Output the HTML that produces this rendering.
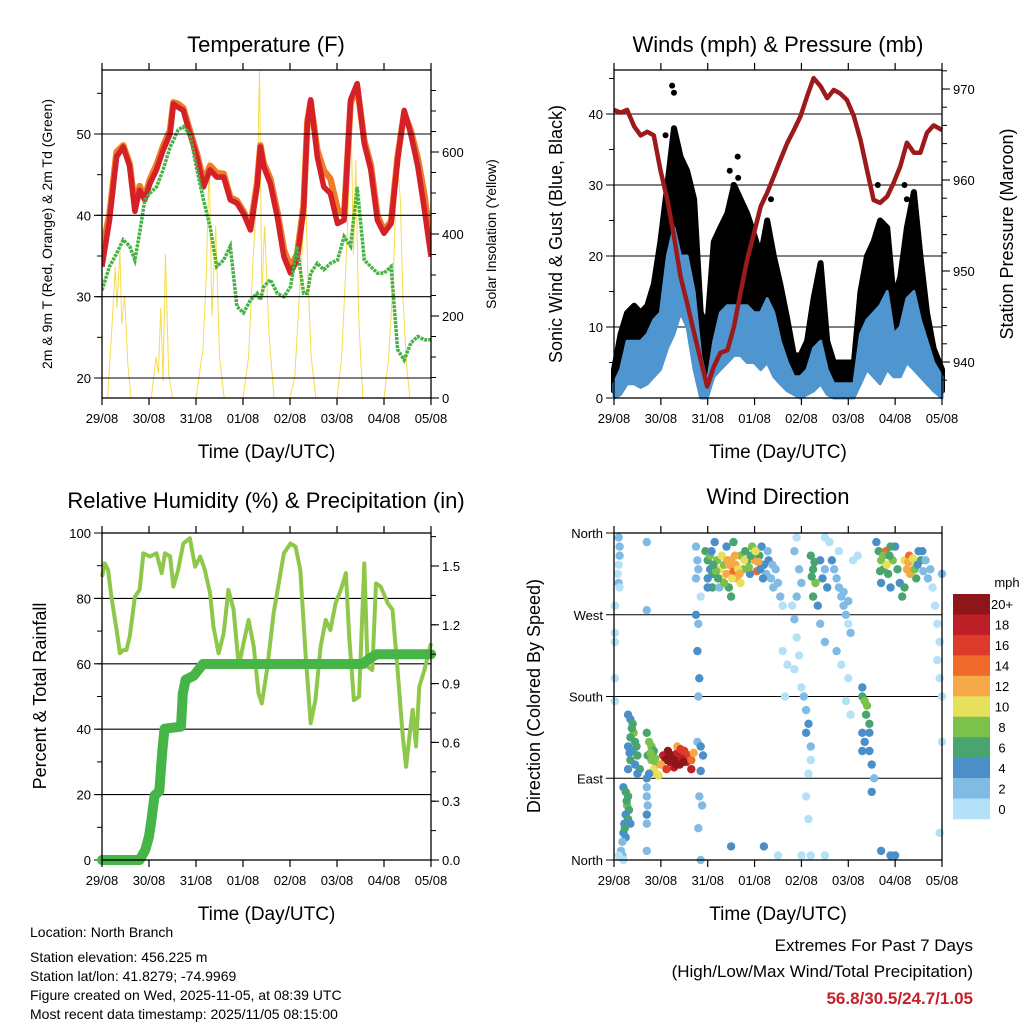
<!DOCTYPE html>
<html><head><meta charset="utf-8">
<style>
html,body{margin:0;padding:0;background:#fff;}
svg{display:block;font-family:"Liberation Sans",sans-serif;}
</style></head>
<body>
<svg id="fig" width="1024" height="1024" viewBox="0 0 1024 1024">
<g id="root"></g>
<g font-size="14" fill="#000">
<text x="30" y="937">Location: North Branch</text>
<text x="30" y="962">Station elevation: 456.225 m</text>
<text x="30" y="981">Station lat/lon: 41.8279; -74.9969</text>
<text x="30" y="1000">Figure created on Wed, 2025-11-05, at 08:39 UTC</text>
<text x="30" y="1019">Most recent data timestamp: 2025/11/05 08:15:00</text>
</g>
<g text-anchor="end">
<text x="973" y="951" font-size="17">Extremes For Past 7 Days</text>
<text x="973" y="977" font-size="17">(High/Low/Max Wind/Total Precipitation)</text>
<text x="973" y="1004" font-size="17" font-weight="bold" fill="#c8202a">56.8/30.5/24.7/1.05</text>
</g>
</svg>
<script>
// ---------- DATA ----------
const dayLabels = ["29/08","30/08","31/08","01/08","02/08","03/08","04/08","05/08"];
// Temperature panel
const tempTimes = [0,.16,.31,.45,.59,.70,.80,.91,1.02,1.16,1.30,1.45,1.52,1.62,1.73,1.87,2.02,2.16,2.30,2.44,2.59,2.73,2.87,3.01,3.16,3.30,3.37,3.44,3.58,3.73,3.87,4.01,4.15,4.29,4.37,4.44,4.58,4.72,4.86,5.01,5.15,5.29,5.43,5.58,5.72,5.86,6.00,6.15,6.29,6.43,6.57,6.72,6.86,7.0];
const temp2m = [33.7,39.4,47.2,48.4,46,40.5,43.1,41.9,43.9,45.6,48,50,53.7,53.3,52.9,50,47.2,43.5,45.6,44.7,44.7,41.9,41.5,40.2,38.2,43.5,48.4,46,43.9,39.8,34.9,32.9,34.5,40.7,51.3,54.2,47.2,43.5,42.7,39,39.4,54.2,56.2,48.8,45.6,39.4,37.8,39,46.8,52.9,50,46,40.7,34.9];
const temp9m = [35.5,40.2,47.8,48.6,46.3,41,43.6,42.3,44.4,46.2,48.5,50.5,53.9,53.7,53.2,50.4,47.6,44.2,46.1,45.2,45.1,42.2,41.8,40.5,38.6,44,48.6,46.4,44.5,40.5,35.8,33.6,35.2,41.2,51.6,54,48,45.5,44.5,40.8,40,53.8,55.8,49.2,46.2,40,38.1,39.3,47.2,52.6,50.4,47,42.5,36.5];
const dewpt = [30.8,33.7,35.3,37,36.2,34.5,37.8,41.9,42.7,43.5,45.6,48.4,49.2,50.5,50.9,50,45.6,41.9,38.6,33.7,34.5,36.2,28.8,28,29.6,30.4,29.6,31.2,32.1,30.4,30,31.2,36.2,30.4,30.4,32.9,34.1,33.3,34.1,34.5,37.4,36.2,43.5,34.5,33.7,32.9,32.9,33.7,23.5,22.2,24.3,25.1,24.7,24.7];
const solarTimes = [0,.12,.2,.28,.32,.38,.42,.48,.55,.62,1.05,1.15,1.2,1.25,1.3,1.35,1.42,1.5,2.0,2.15,2.22,2.28,2.34,2.42,2.5,2.6,3.0,3.12,3.22,3.3,3.35,3.4,3.46,3.55,3.66,4.0,4.1,4.2,4.28,4.32,4.38,4.45,4.55,5.0,5.1,5.18,5.25,5.3,5.35,5.4,5.46,5.55,6.0,6.1,6.2,6.28,6.35,6.4,6.48,6.55,7.0];
const solarVals = [0,0,150,320,220,360,180,250,80,0,0,100,60,220,40,350,60,0,0,120,300,580,200,420,100,0,0,100,350,500,800,250,420,160,0,0,50,250,400,560,300,100,0,0,100,300,500,680,350,580,200,0,0,100,300,590,480,250,80,0,0];
// Wind panel
const pressTimes = [0,.14,.28,.43,.57,.71,.85,.99,1.14,1.28,1.42,1.56,1.71,1.85,1.99,2.13,2.27,2.42,2.56,2.7,2.84,2.99,3.13,3.27,3.41,3.55,3.7,3.84,3.98,4.12,4.26,4.41,4.55,4.69,4.83,4.97,5.12,5.26,5.4,5.54,5.68,5.83,5.97,6.11,6.25,6.4,6.54,6.68,6.82,7.0];
const pressure = [967.7,967.4,967.7,965.9,964.9,965.3,964.9,961.1,957.8,953.8,949.4,946.5,943.2,940.2,937.3,939.5,941,941.3,943.9,947.6,951.2,954.2,957.1,958.6,960.4,962.2,964.1,965.5,967,969.2,971.2,970.3,969,969.9,969.5,968.8,967,964.4,961.1,957.8,957.5,958.2,959.7,961.5,964.1,963,963,965.2,966,965.5];
const windLow = [0,.5,2,2,1.5,2,3,4,7,9,12,10,4,0,0,3,4,5,6,6,5,5,4,5,3,2,1,.5,0,.5,1,2,.5,0,0,0,0,2,4,3,2,4,3,3,5,4,3,2,1,0];
const windHigh = [2,4,8,8,8,9,11,12,20,24,20,20,15,6,2,8,12,13,13,13,13,12,12,14,12,8,5,3,3,4,7,8,4,2,2,2,2,9,11,12,13,15,9,10,14,15,11,8,5,3];
const gustLow = [1,3,5,5,5,6,8,10,14,18,16,12,8,2,2,6,8,9,10,9,9,8,6,8,6,4,2,1,1,2,3,4,2,1,1,1,1,4,7,6,6,6,5,6,8,8,6,4,2,1];
const gustHigh = [4,9,12,13,12,13,16,22,30,38,34,32,28,12,10,22,24,26,30,28,26,23,20,25,20,16,11,6,6,8,14,19,8,5,5,5,5,15,20,22,25,24,14,17,24,29,20,12,7,4];
const gustOutTimes = [1.24,1.28,1.1,1.32,2.47,2.64,2.65,2.55,3.35,5.63,5.5,5.55,6.2,6.25];
const gustOutVals = [44,43,37,36,32,34,31,30,28,30,20,22,30,28];
// RH panel
const rhTimes = [0,.06,.13,.2,.31,.38,.45,.52,.59,.70,.80,.88,1.02,1.16,1.27,1.34,1.45,1.52,1.62,1.73,1.87,1.98,2.09,2.19,2.30,2.37,2.48,2.59,2.69,2.80,2.91,3.01,3.12,3.23,3.33,3.40,3.51,3.65,3.76,3.87,4.01,4.12,4.22,4.33,4.44,4.54,4.65,4.76,4.86,4.97,5.08,5.19,5.26,5.36,5.47,5.58,5.65,5.75,5.83,5.93,6.08,6.18,6.29,6.40,6.47,6.54,6.61,6.68,6.75,6.86,7.0];
const rhVals = [86.6,90.7,88.7,80.5,70.3,63.2,64.2,64.2,68.3,80.5,82.6,93.8,92.8,93.8,87.7,93.8,92.8,83.6,88.7,96.8,98.4,89.7,92.8,88.7,81.5,71.4,63.2,69.3,82.6,76.5,59.1,66.3,73.4,65.2,51,47.9,58.1,75.4,84.6,93.8,96.8,95.8,88.7,63.2,41.8,48.9,65.2,73.4,70.3,78.5,82.6,87.7,68.3,48.9,50,90.7,59.1,58.1,84.6,83.6,78.5,76.5,58.1,37.7,28.5,37.7,45.9,34.7,53,58.1,66.3];
const precipTimes = [0,.8,.92,1.0,1.05,1.12,1.22,1.28,1.33,1.68,1.72,1.78,1.95,2.15,5.55,5.7,5.85,7.0];
const precipVals = [0,0,.05,.12,.2,.33,.35,.55,.67,.68,.85,.92,.94,1.0,1.0,1.03,1.05,1.05];
// Wind direction panel: [day, direction deg, speed mph]
const dirPoints = [
[0.1,355,2],[0.12,345,2],[0.12,335,2],[0.1,325,1],[0.08,315,1],[0.1,305,2],[0.12,300,1],[0.02,280,1],[0.02,250,1],[0.02,240,1],[0.02,200,1],[0.02,175,1],
[0.2,80,4],[0.25,75,6],[0.3,70,6],[0.28,60,8],[0.32,55,6],[0.25,50,4],[0.3,45,6],[0.22,40,4],[0.35,40,4],[0.2,30,4],[0.25,25,4],[0.18,20,2],[0.15,10,2],[0.18,5,2],[0.2,0,1],[0.27,65,6],[0.23,35,6],
[0.3,160,4],[0.35,155,4],[0.4,150,6],[0.42,140,8],[0.35,135,6],[0.45,130,6],[0.3,125,4],[0.4,120,4],[0.5,115,6],[0.35,110,6],[0.45,105,4],[0.3,100,4],[0.55,100,6],[0.5,95,4],[0.38,145,6],[0.33,118,4],[0.48,125,6],
[0.7,140,6],[0.75,130,8],[0.8,125,8],[0.85,120,6],[0.72,115,6],[0.8,110,8],[0.9,105,8],[0.85,100,10],[0.9,95,10],[0.95,93,10],[0.75,95,4],[0.7,90,4],[0.78,118,8],[0.88,112,8],
[0.7,80,2],[0.7,70,2],[0.72,60,2],[0.7,50,4],[0.7,40,2],[0.7,10,2],[0.7,275,2],[0.7,350,2],[0.1,5,1],
[1.05,115,18],[1.1,110,20],[1.15,120,20],[1.2,108,20],[1.25,115,20],[1.3,110,20],[1.35,118,18],[1.4,105,20],[1.45,112,18],[1.5,120,16],[1.55,108,18],[1.6,115,16],[1.65,110,14],[1.7,118,12],[1.65,100,18],[1.35,125,12],[1.0,105,12],[1.12,100,16],[1.28,102,18],[1.42,122,16],[1.18,115,20],[1.32,105,20],[1.48,108,20],
[1.75,270,4],[1.8,260,2],[1.78,230,4],[1.82,200,4],[1.8,180,2],[1.78,130,2],[1.85,125,4],[1.9,115,4],[1.85,98,4],[1.82,70,2],[1.88,60,2],[1.8,35,2],[1.85,0,2],[1.75,345,2],[1.78,330,2],[1.8,320,2],[1.75,310,2],[1.85,290,1],
[1.95,340,6],[2.0,330,6],[2.05,320,4],[2.1,315,6],[2.0,310,4],[2.1,300,6],[2.2,330,8],[2.25,320,10],[2.3,310,10],[2.35,325,8],[2.4,315,12],[2.45,300,6],[2.5,330,12],[2.55,318,14],[2.6,325,12],[2.62,310,12],[2.7,335,8],[2.7,305,10],[2.75,320,8],[2.8,340,6],[2.85,330,6],[2.9,315,4],[2.95,345,8],[3.0,330,12],[3.05,318,14],[3.1,335,6],[3.15,345,4],[3.2,325,4],[3.25,315,2],[3.3,330,4],[3.35,310,2],[3.4,300,2],[3.45,320,2],[2.25,300,2],[2.5,290,6],[2.4,345,4],[2.15,350,4],[2.55,350,6],[2.05,335,8],[2.45,325,12],[2.65,320,10],[2.0,300,4],
[2.3,335,10],[2.35,305,8],[2.42,330,12],[2.52,310,10],[2.58,335,12],[2.68,315,12],[2.78,330,10],[2.88,322,8],[2.92,335,6],[3.02,340,10],[3.08,328,12],[2.18,318,8],[2.12,325,6],[2.08,340,4],[2.22,310,6],[3.12,320,4],[3.18,310,4],[3.28,340,2],[3.38,325,2],[3.5,305,2],[3.55,290,2],[3.6,280,1],
[3.9,355,1],[3.85,340,2],[3.95,320,2],[4.0,305,2],[3.9,290,2],[3.8,280,1],[3.85,265,2],[3.9,245,1],[3.95,225,1],[3.85,210,1],[4.0,190,1],[4.05,180,2],[4.1,165,2],[4.15,150,4],[4.1,140,4],[4.2,125,2],[4.2,110,1],[4.15,95,1],[4.1,70,1],[4.15,45,1],[4.0,5,1],[3.6,230,1],[3.7,215,1],[3.65,180,1],
[4.2,335,6],[4.25,320,6],[4.3,305,8],[4.25,290,6],[4.4,330,4],[4.45,310,4],[4.5,320,2],[4.55,300,4],[4.35,280,4],[4.4,260,2],[4.5,240,2],[4.22,312,6],[4.28,328,6],
[4.7,320,2],[4.8,300,2],[4.85,290,2],[4.9,280,2],[4.95,270,2],[5.0,260,1],[5.05,250,2],[4.75,230,2],[4.85,215,1],[5.0,200,1],[4.95,175,1],[5.05,160,1],[4.8,340,1],[5.1,330,1],[5.2,335,1],[4.6,350,1],[4.5,355,1],[4.75,310,2],[4.9,295,2],[5.0,285,2],[4.65,330,4],
[5.3,190,4],[5.3,180,6],[5.35,175,8],[5.4,170,8],[5.38,160,6],[5.45,150,6],[5.3,140,4],[5.35,130,4],[5.45,120,4],[5.5,105,4],[5.55,90,2],[5.5,75,4],[5.3,120,4],[5.45,140,4],
[5.6,350,4],[5.65,340,6],[5.7,330,8],[5.75,320,6],[5.8,340,14],[5.85,315,6],[5.9,300,4],[5.95,330,8],[6.0,345,4],[6.05,320,6],[6.1,305,4],[6.2,330,10],[6.25,320,12],[6.3,335,14],[6.35,318,12],[6.4,325,10],[6.45,310,6],[6.5,340,4],[6.55,330,6],[6.6,318,2],[6.2,300,6],[6.15,290,6],[5.7,305,4],[5.9,345,6],
[5.75,335,8],[5.82,325,10],[5.88,335,6],[6.28,328,12],[6.32,315,12],[6.38,332,10],[6.42,320,8],[5.68,318,6],[6.48,325,4],[6.58,340,4],[6.65,330,2],[6.7,310,2],
[6.75,320,2],[6.8,300,1],[6.85,280,1],[6.9,260,1],[6.95,240,1],[6.9,220,1],[6.95,200,1],[7.0,180,1],[7.0,130,1],[6.95,30,1],[7.0,315,2],
[2.5,15,4],[3.2,15,4],[4.2,5,1],[4.5,5,1],[5.7,10,4],[5.9,5,4],[6.0,5,4],[3.5,5,1]
];
const speedLabels = ["0","2","4","6","8","10","12","14","16","18","20+"];
const speedColors = ["#b4e1f7","#7fbbe5","#4a8fc8","#48a56f","#7bc14b","#e6e05a","#f5aa47","#ef6a2b","#dc3a2a","#bd1f27","#8e1619"];

// ---------- HELPERS ----------
const NS = "http://www.w3.org/2000/svg";
const root = document.getElementById("root");
function mk(tag, attrs, parent){ const e=document.createElementNS(NS,tag); for(const k in attrs) e.setAttribute(k,attrs[k]); (parent||root).appendChild(e); return e; }
function txt(x,y,s,attrs,parent){ const e=mk("text",Object.assign({x:x,y:y},attrs||{}),parent); e.textContent=s; return e; }

function makePanel(x0,x1,y0,y1){ return {x0,x1,y0,y1, xs:t=>x0+t/7*(x1-x0)}; }
function lin(d0,d1,p0,p1){ return v=>p0+(v-d0)/(d1-d0)*(p1-p0); }

function frame(p, g){
  mk("rect",{x:p.x0,y:p.y0,width:p.x1-p.x0,height:p.y1-p.y0,fill:"none",stroke:"#000","stroke-width":1.3},g);
  for(let i=0;i<dayLabels.length;i++){
    const x=p.xs(i);
    mk("line",{x1:x,x2:x,y1:p.y1,y2:p.y1+7,stroke:"#000","stroke-width":1.2},g);
    mk("line",{x1:x,x2:x,y1:p.y0,y2:p.y0-7,stroke:"#000","stroke-width":1.2},g);
    const t=txt(x,p.y1+25,dayLabels[i],{"font-size":13,"text-anchor":"middle"},g);
    
    
  }
  const xt=txt((p.x0+p.x1)/2,p.y1+60,"Time (Day/UTC)",{"font-size":19,"text-anchor":"middle"},g);
  
  
}
function leftAxis(p,g,ys,majors,labels,minors,grid){
  minors.forEach(v=>{const y=ys(v); mk("line",{x1:p.x0-5,x2:p.x0,y1:y,y2:y,stroke:"#000","stroke-width":1},g);});
  majors.forEach((v,i)=>{const y=ys(v);
    if(grid) mk("line",{x1:p.x0-8,x2:p.x1,y1:y,y2:y,stroke:"#000","stroke-width":1.1},g);
    else mk("line",{x1:p.x0-8,x2:p.x0,y1:y,y2:y,stroke:"#000","stroke-width":1.1},g);
    const t=txt(p.x0-11,y+5,labels[i],{"font-size":13,"text-anchor":"end"},g);
    
    
  });
}
function rightAxis(p,g,ys,majors,labels,minors){
  minors.forEach(v=>{const y=ys(v); mk("line",{x1:p.x1,x2:p.x1+5,y1:y,y2:y,stroke:"#000","stroke-width":1},g);});
  majors.forEach((v,i)=>{const y=ys(v);
    mk("line",{x1:p.x1,x2:p.x1+8,y1:y,y2:y,stroke:"#000","stroke-width":1.1},g);
    const t=txt(p.x1+11,y+5,labels[i],{"font-size":13,"text-anchor":"start"},g);
    
    
  });
}
function range(a,b,s){const r=[];for(let v=a;v<=b+1e-9;v+=s)r.push(+v.toFixed(4));return r;}
function pathFrom(times,vals,xs,ys){return times.map((t,i)=>(i?"L":"M")+xs(t).toFixed(1)+","+ys(vals[i]).toFixed(1)).join("");}
function bandPath(times,lo,hi,xs,ys){
  let d=times.map((t,i)=>(i?"L":"M")+xs(t).toFixed(1)+","+ys(hi[i]).toFixed(1)).join("");
  for(let i=times.length-1;i>=0;i--) d+="L"+xs(times[i]).toFixed(1)+","+ys(lo[i]).toFixed(1);
  return d+"Z";
}
function vlabel(x,y,s,size,g,name){
  const t=txt(x,y,s,{"font-size":size,"text-anchor":"middle",transform:`rotate(-90 ${x} ${y})`},g);
  
  
}

// ---------- PANEL 1: TEMPERATURE ----------
(function(){
  const g=mk("g",{});
  
  
  const p=makePanel(102,431,70,398);
  const ys=lin(20,50,378,134), ysr=lin(0,600,398,152);
  const cp=mk("clipPath",{id:"c1"},g); mk("rect",{x:p.x0,y:p.y0,width:p.x1-p.x0,height:p.y1-p.y0},cp);
  const s=mk("path",{d:pathFrom(solarTimes,solarVals,p.xs,ysr),fill:"none",stroke:"#f7dc4a","stroke-width":1,"clip-path":"url(#c1)"},g);
   
  const o=mk("path",{d:pathFrom(tempTimes,temp9m,p.xs,ys),fill:"none",stroke:"#f07c2a","stroke-width":6.5,"stroke-linejoin":"round","clip-path":"url(#c1)"},g);
   
  const r=mk("path",{d:pathFrom(tempTimes,temp2m,p.xs,ys),fill:"none",stroke:"#d42027","stroke-width":5.5,"stroke-linejoin":"round","clip-path":"url(#c1)"},g);
   
  const d=mk("path",{d:pathFrom(tempTimes,dewpt,p.xs,ys),fill:"none",stroke:"#45b244","stroke-width":3.5,"stroke-dasharray":"3 1","clip-path":"url(#c1)"},g);
   
  leftAxis(p,g,ys,[20,30,40,50],["20","30","40","50"],range(20,55,5),true);
  rightAxis(p,g,ysr,[0,200,400,600],["0","200","400","600"],range(0,750,50));
  frame(p,g);
  const t=txt(266,52,"Temperature (F)",{"font-size":22,"text-anchor":"middle"},g);
   
  vlabel(52,234,"2m & 9m T (Red, Orange) & 2m Td (Green)",14,g,'temperature-y-axis-title');
  vlabel(496,234,"Solar Insolation (Yellow)",14,g,'solar-y-axis-title');
})();

// ---------- PANEL 2: WINDS ----------
(function(){
  const g=mk("g",{});
  
  
  const p=makePanel(614,942,70,398);
  const ys=lin(0,40,398,114), ysr=lin(940,970,362,89);
  const cp=mk("clipPath",{id:"c2"},g); mk("rect",{x:p.x0-3,y:p.y0,width:p.x1-p.x0+6,height:p.y1-p.y0+3},cp);
  leftAxis(p,g,ys,[0,10,20,30,40],["0","10","20","30","40"],range(0,45,5),true);
  const gb=mk("path",{d:bandPath(pressTimes,gustLow,gustHigh,p.xs,ys),fill:"#000",stroke:"#000","stroke-width":6,"stroke-linejoin":"round","clip-path":"url(#c2)"},g);
   
  gustOutTimes.forEach((t,i)=>{
    const c=mk("circle",{cx:p.xs(t),cy:ys(gustOutVals[i]),r:3,fill:"#000"},g);
    
    
  });
  const wb=mk("path",{d:bandPath(pressTimes,windLow,windHigh,p.xs,ys),fill:"#4f95d0",stroke:"#4f95d0","stroke-width":3,"stroke-linejoin":"round","clip-path":"url(#c2)"},g);
   
  const pr=mk("path",{d:pathFrom(pressTimes,pressure,p.xs,ysr),fill:"none",stroke:"#9c1a1c","stroke-width":4.5,"stroke-linejoin":"round"},g);
   
  rightAxis(p,g,ysr,[940,950,960,970],["940","950","960","970"],range(938,972,2));
  frame(p,g);
  const t=txt(778,52,"Winds (mph) & Pressure (mb)",{"font-size":22,"text-anchor":"middle"},g);
   
  vlabel(562,234,"Sonic Wind & Gust (Blue, Black)",18,g,'wind-y-axis-title');
  vlabel(1013,234,"Station Pressure (Maroon)",18,g,'pressure-y-axis-title');
})();

// ---------- PANEL 3: RH & PRECIP ----------
(function(){
  const g=mk("g",{});
  
  
  const p=makePanel(102,431,533,860);
  const ys=lin(0,100,860,533), ysr=lin(0,1.5,860,566);
  const cp=mk("clipPath",{id:"c3"},g); mk("rect",{x:p.x0-8,y:p.y0,width:p.x1-p.x0+16,height:p.y1-p.y0+8},cp);
  leftAxis(p,g,ys,[0,20,40,60,80,100],["0","20","40","60","80","100"],range(0,100,10),true);
  const rh=mk("path",{d:pathFrom(rhTimes,rhVals,p.xs,ys),fill:"none",stroke:"#8dc84b","stroke-width":4,"stroke-linejoin":"round","clip-path":"url(#c3)"},g);
   
  const pc=mk("path",{d:pathFrom(precipTimes,precipVals,p.xs,ysr),fill:"none",stroke:"#46b447","stroke-width":10,"stroke-linejoin":"round","stroke-linecap":"round","clip-path":"url(#c3)"},g);
   
  rightAxis(p,g,ysr,[0,.3,.6,.9,1.2,1.5],["0.0","0.3","0.6","0.9","1.2","1.5"],range(0,1.65,.15));
  frame(p,g);
  const t=txt(266,508,"Relative Humidity (%) & Precipitation (in)",{"font-size":22,"text-anchor":"middle"},g);
   
  vlabel(46,696,"Percent & Total Rainfall",18,g,'humidity-y-axis-title');
})();

// ---------- PANEL 4: WIND DIRECTION ----------
(function(){
  const g=mk("g",{});
  
  
  const p=makePanel(614,942,533,860);
  const ys=lin(0,360,860,533);
  leftAxis(p,g,ys,[0,90,180,270,360],["North","East","South","West","North"],[],true);
  dirPoints.forEach(pt=>{
    const bin=Math.min(10,Math.floor(pt[2]/2));
    const c=mk("circle",{cx:p.xs(pt[0]).toFixed(1),cy:ys(pt[1]).toFixed(1),r:4.2,fill:speedColors[bin]},g);
    
    
  });
  frame(p,g);
  const t=txt(778,504,"Wind Direction",{"font-size":22,"text-anchor":"middle"},g);
   
  vlabel(540,696,"Direction (Colored By Speed)",18,g,'direction-y-axis-title');
  // colorbar
  const lg=mk("g",{},g);
  
  
  const bh=(819-594)/speedColors.length;
  for(let i=0;i<speedColors.length;i++){
    const k=speedColors.length-1-i;
    const r=mk("rect",{x:953,y:594+i*bh,width:37,height:bh+0.3,fill:speedColors[k]},lg);
    
    
    const l=txt(1002,594+i*bh+bh/2+5,speedLabels[k],{"font-size":13,"text-anchor":"middle"},lg);
    
    
  }
  const u=txt(1007,587,"mph",{"font-size":13,"text-anchor":"middle"},lg);
   
})();
</script>
</body></html>
